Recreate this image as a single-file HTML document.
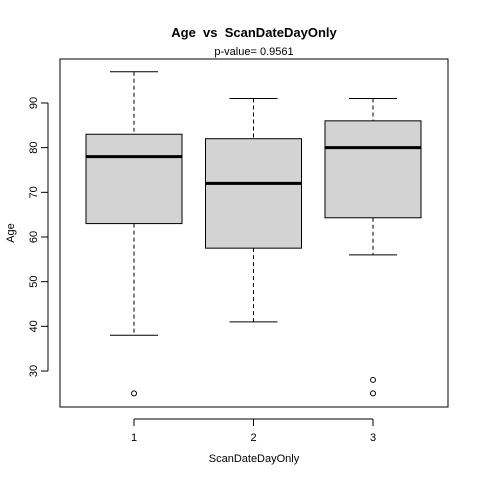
<!DOCTYPE html>
<html><head><meta charset="utf-8"><style>
body{margin:0;background:#fff}
svg{font-family:"Liberation Sans",Arial,sans-serif;display:block}
text{white-space:pre}
</style></head><body>
<svg id="c" width="480" height="480">
<rect x="0" y="0" width="480" height="480" fill="#fff"/>
<text x="254" y="37" text-anchor="middle" font-weight="bold" font-size="13">Age  vs  ScanDateDayOnly</text>
<text x="254" y="55" text-anchor="middle" font-size="11">p-value= 0.9561</text>
<text x="254" y="462" text-anchor="middle" font-size="11">ScanDateDayOnly</text>
<text transform="translate(14,233) rotate(-90)" text-anchor="middle" font-size="11">Age</text>
<rect x="60" y="59" width="388" height="348" fill="none" stroke="#000"/>
<g id="marks"></g>
</svg>
<script>
const categories=["1","2","3"];
const whiskerLow=[38,41,56];
const q1=[63,57.5,64.3];
const medians=[78,72,80];
const q3=[83,82,86];
const whiskerHigh=[97,91,91];
const outliers=[[25],[],[25,28]];
const yTicks=[30,40,50,60,70,80,90];

const NS="http://www.w3.org/2000/svg";
const g=document.getElementById('marks');
function y(v){return 371-(v-30)*4.467;}
function x(i){return 134+i*119.5;}
function el(t,a){const e=document.createElementNS(NS,t);for(const k in a)e.setAttribute(k,a[k]);g.appendChild(e);return e;}
el('line',{x1:48,x2:48,y1:y(yTicks[0]),y2:y(yTicks[yTicks.length-1]),stroke:'#000'});
yTicks.forEach(t=>{
 const l=el('line',{x1:41,x2:48,y1:y(t),y2:y(t),stroke:'#000'});
 
 
 const tx=el('text',{transform:`translate(37,${y(t)}) rotate(-90)`,'text-anchor':'middle','font-size':'11'});
 tx.textContent=t;
 
 
});
el('line',{x1:x(0),x2:x(2),y1:419,y2:419,stroke:'#000'});
categories.forEach((c,i)=>{
 const cx=x(i);
 el('line',{x1:cx,x2:cx,y1:419,y2:426,stroke:'#000'});
 const tx=el('text',{x:cx,y:441,'text-anchor':'middle','font-size':'11'});
 tx.textContent=c;
 
 
 el('line',{x1:cx,x2:cx,y1:y(whiskerHigh[i]),y2:y(q3[i]),stroke:'#000','stroke-dasharray':'4,3'});
 el('line',{x1:cx,x2:cx,y1:y(q1[i]),y2:y(whiskerLow[i]),stroke:'#000','stroke-dasharray':'4,3'});
 el('line',{x1:cx-24,x2:cx+24,y1:y(whiskerHigh[i]),y2:y(whiskerHigh[i]),stroke:'#000'});
 el('line',{x1:cx-24,x2:cx+24,y1:y(whiskerLow[i]),y2:y(whiskerLow[i]),stroke:'#000'});
 const b=el('rect',{x:cx-48,width:96,y:y(q3[i]),height:y(q1[i])-y(q3[i]),fill:'#d3d3d3',stroke:'#000'});
 
 
 const m=el('line',{x1:cx-48,x2:cx+48,y1:y(medians[i]),y2:y(medians[i]),stroke:'#000','stroke-width':3});
 
 
 outliers[i].forEach(o=>{
  const p=el('circle',{cx:cx,cy:y(o),r:2.5,fill:'none',stroke:'#000'});
  
  
 });
});
</script>
</body></html>
